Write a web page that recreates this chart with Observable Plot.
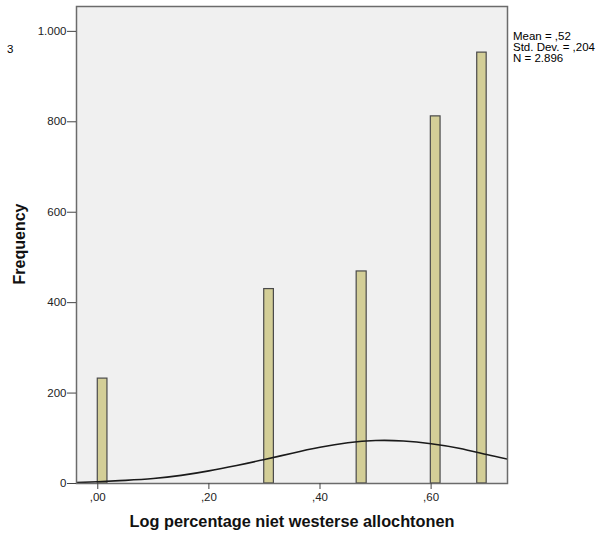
<!DOCTYPE html>
<html>
<head>
<meta charset="utf-8">
<script src="https://cdn.jsdelivr.net/npm/d3@7"></script>
<script src="https://cdn.jsdelivr.net/npm/@observablehq/plot@0.6"></script>
<style>
  html, body { margin: 0; padding: 0; background: #fff; }
  #wrap { position: relative; width: 606px; height: 538px; font-family: "Liberation Sans", Arial, sans-serif; }
  .note { position: absolute; font-size: 11.5px; line-height: 11px; color: #000; white-space: pre; }
  .ytitle { position: absolute; font-size: 16px; font-weight: bold; color: #111; white-space: nowrap;
            left: 20px; top: 244px; transform: translate(-50%, -50%) rotate(-90deg); }
</style>
</head>
<body>
<div id="wrap"></div>
<script>
// Histogram bins: left edge, right edge, frequency
const binStart = [0.000, 0.2996, 0.466, 0.5995, 0.683];
const binEnd   = [0.0174, 0.317, 0.484, 0.617, 0.700];
const counts   = [232, 430, 469, 812, 953];

// Fitted normal curve (frequency scale)
const curveX = [-0.04, 0.00, 0.05, 0.10, 0.15, 0.20, 0.25, 0.30, 0.35, 0.40, 0.45, 0.50, 0.55, 0.60, 0.65, 0.70, 0.7375];
const curveY = [2, 4, 7, 11, 18, 28, 40, 53, 67, 80, 90, 95, 94, 88, 78, 64, 54];

// Axis ticks
const xTicks = [0, 0.2, 0.4, 0.6];
const yTicks = [0, 200, 400, 600, 800, 1000];

// Titles and summary statistics
const xTitle = "Log percentage niet westerse allochtonen";
const yTitle = "Frequency";
const statLines = ["Mean = ,52", "Std. Dev. = ,204", "N = 2.896"];

const bins = counts.map((c, i) => ({x1: binStart[i], x2: binEnd[i], count: c}));
const curve = curveX.map((x, i) => ({x, y: curveY[i]}));

// Dutch number formatting: decimal comma, dot for thousands
const fmtX = d => d3.format(".2f")(d).replace(/^0/, "").replace(".", ",");
const fmtY = d => d3.format(",")(d).replace(/,/g, ".");

const chart = Plot.plot({
  width: 606,
  height: 538,
  marginLeft: 76,
  marginRight: 99,
  marginTop: 6,
  marginBottom: 55,
  style: {fontFamily: "'Liberation Sans', Arial, sans-serif", background: "#fff", overflow: "visible"},
  x: {domain: [-0.0383, 0.7375]},
  y: {domain: [0, 1055]},
  marks: [
    Plot.frame({fill: "#f0f0f0", stroke: null}),
    Plot.rectY(bins, {x1: "x1", x2: "x2", y: "count", fill: "#d3ce97", stroke: "#4a4a4a", strokeWidth: 1.2}),
    Plot.line(curve, {x: "x", y: "y", curve: "natural", stroke: "#1a1a1a", strokeWidth: 1.6, clip: true}),
    Plot.frame({stroke: "#6b6b6b", strokeWidth: 1.5}),
    Plot.axisX({ticks: xTicks, tickFormat: fmtX, tickSize: 6, tickPadding: 3, fontSize: 11.5, label: null, stroke: "#444", color: "#222"}),
    Plot.axisY({ticks: yTicks, tickFormat: fmtY, tickSize: 9, tickPadding: 1, fontSize: 11.5, label: null, stroke: "#444", color: "#222"}),
    Plot.text([xTitle], {frameAnchor: "bottom", dy: 43, fontSize: 16.3, fontWeight: "bold", fill: "#111"})
  ]
});

const wrap = document.getElementById("wrap");
wrap.appendChild(chart);

const ylab = document.createElement("div");
ylab.className = "ytitle";
ylab.textContent = yTitle;
wrap.appendChild(ylab);

const stats = document.createElement("div");
stats.className = "note";
stats.style.left = "513px";
stats.style.top = "31px";
stats.textContent = statLines.join("\n");
wrap.appendChild(stats);

const side = document.createElement("div");
side.className = "note";
side.style.left = "7px";
side.style.top = "44px";
side.textContent = "3";
wrap.appendChild(side);
</script>
</body>
</html>
